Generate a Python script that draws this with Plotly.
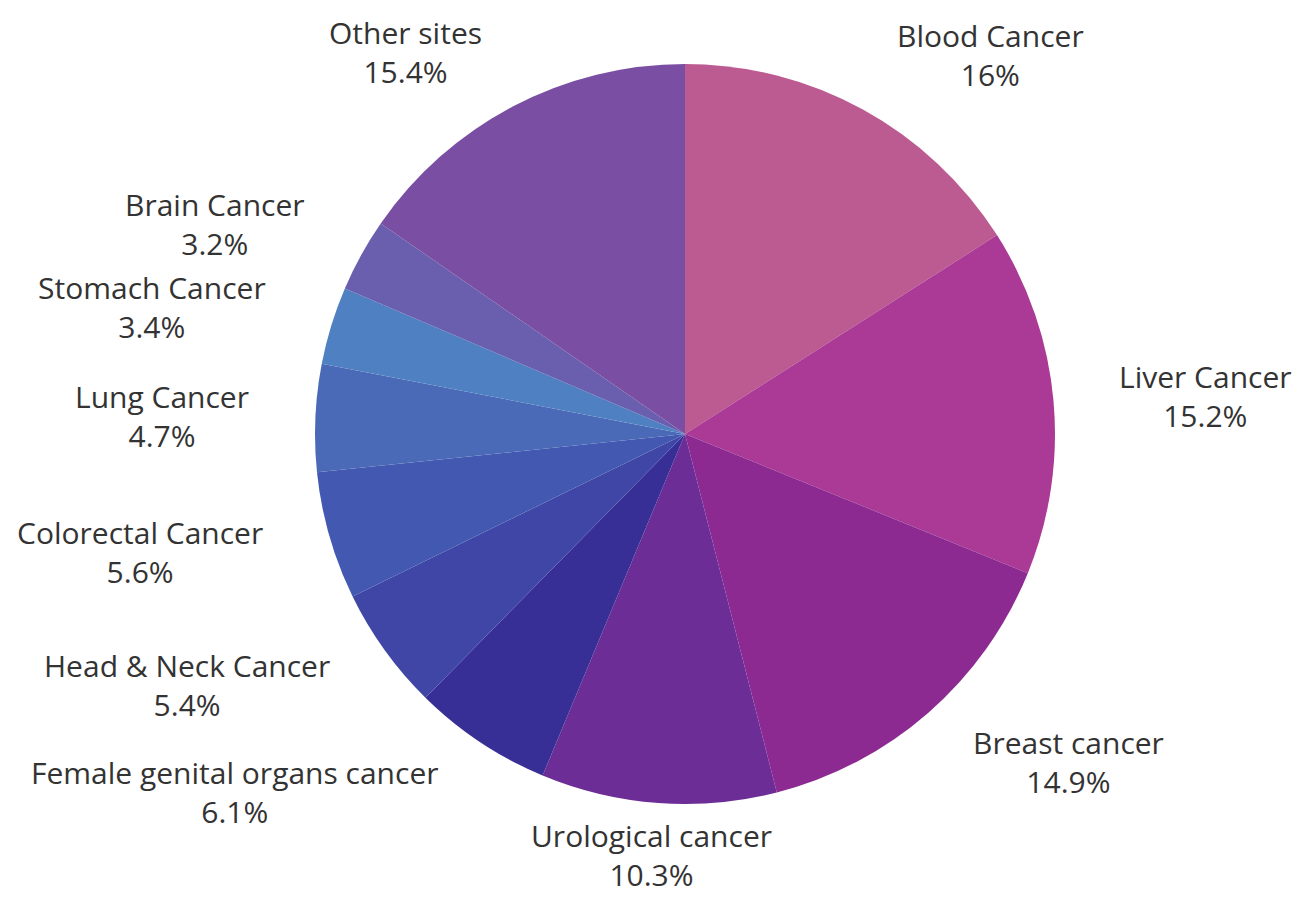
import plotly.graph_objects as go

# Data
categories = ["Blood Cancer", "Liver Cancer", "Breast cancer", "Urological cancer",
              "Female genital organs cancer", "Head & Neck Cancer", "Colorectal Cancer",
              "Lung Cancer", "Stomach Cancer", "Brain Cancer", "Other sites"]
values = [16, 15.2, 14.9, 10.3, 6.1, 5.4, 5.6, 4.7, 3.4, 3.2, 15.4]
value_labels = ["16%", "15.2%", "14.9%", "10.3%", "6.1%", "5.4%", "5.6%", "4.7%", "3.4%", "3.2%", "15.4%"]

# Styles
colors = ["#BC5A92", "#AA3A95", "#8C2A92", "#6C2E96", "#372E96", "#3F46A6",
          "#4358B0", "#4A6AB8", "#4F80C2", "#6A5EAE", "#7A4EA2"]

OFF = 8  # page body margin
W, H = 1309 - OFF, 897 - OFF
L, T = 315 - OFF, 64 - OFF
PW = PH = 740
R = W - L - PW
B = H - T - PH
# label block centres in page pixels (layout)
label_px = [(990, 55), (1205, 396), (1068, 762), (651, 855), (235, 792), (187, 685),
            (140, 552), (162, 416), (152, 307), (215, 224), (405, 52)]

fig = go.Figure(go.Pie(
    labels=categories, values=values, sort=False, direction="clockwise", rotation=0,
    marker=dict(colors=colors, line=dict(width=0)),
    textinfo="none", hoverinfo="label+value", showlegend=False,
))

for cat, lab, (px, py) in zip(categories, value_labels, label_px):
    fx, fy = px - OFF, py - OFF
    fig.add_annotation(
        x=(fx - L) / PW, y=(H - B - fy) / PH, xref="paper", yref="paper",
        text=f"{cat}<br>{lab}", showarrow=False, xanchor="center", yanchor="middle",
        font=dict(family="Open Sans", size=30, color="#333333"),
    )

fig.update_layout(
    width=W, height=H, margin=dict(l=L, r=R, t=T, b=B),
    paper_bgcolor="white", plot_bgcolor="white",
)
fig.write_html("out.html")
